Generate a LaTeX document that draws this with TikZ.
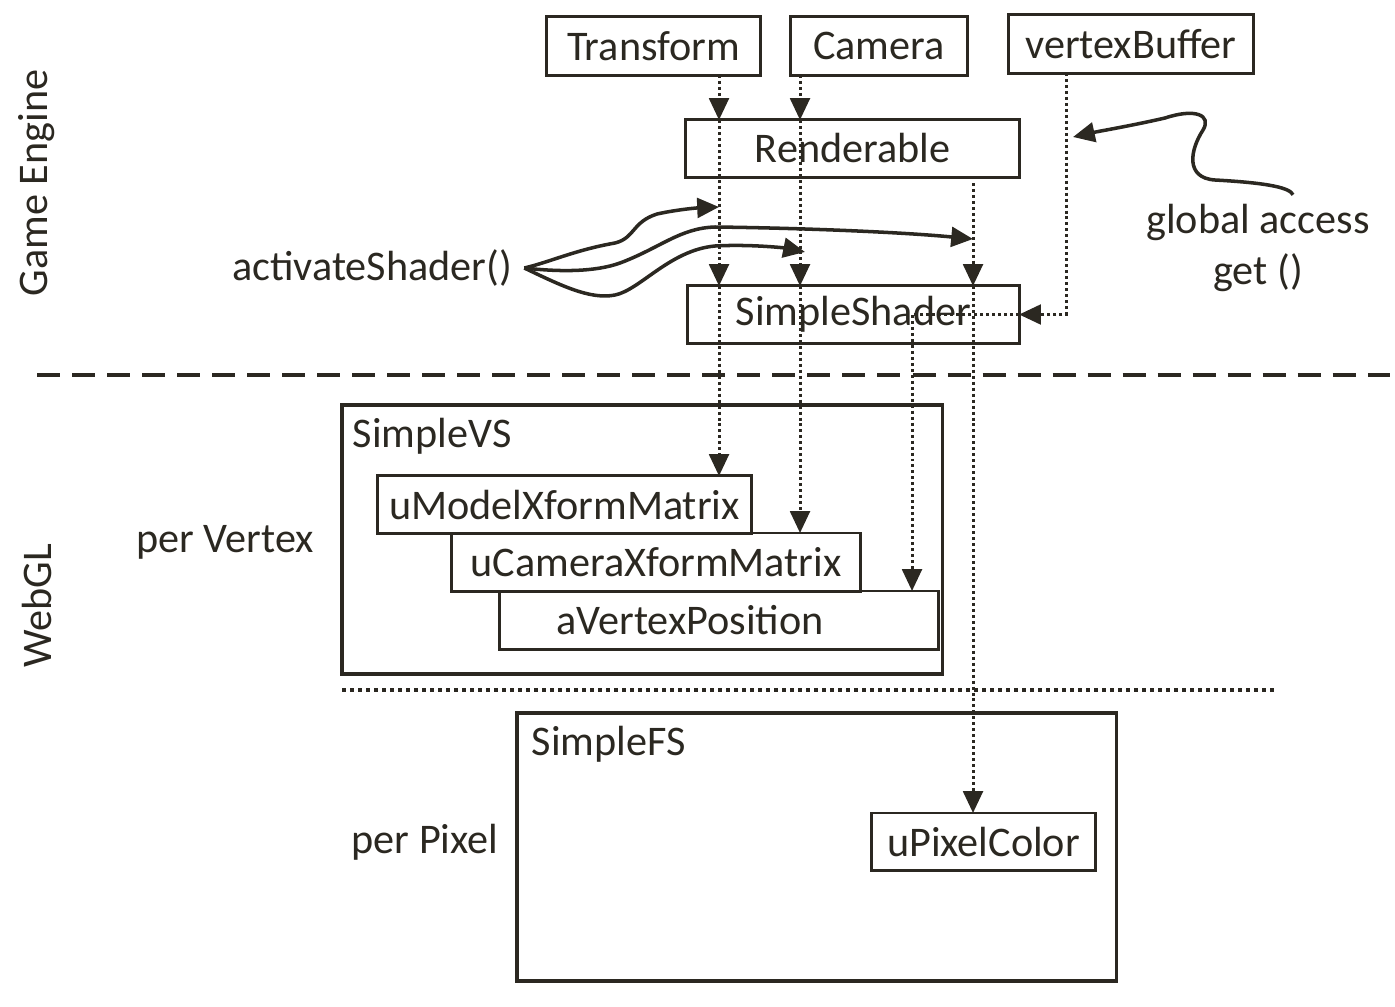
\documentclass[tikz,border=0pt]{standalone}
\usepackage{fontspec}
\setmainfont{Carlito}
\usetikzlibrary{arrows.meta, positioning, calc}
\definecolor{ink}{RGB}{43,40,33}

\begin{document}
\begin{tikzpicture}[
    x=0.01cm, y=-0.01cm,
    every node/.style={text=ink, font=\fontsize{12}{14.5}\selectfont},
    box/.style={rectangle, draw=ink, line width=0.85pt, minimum height=0.57cm, inner sep=0pt, outer sep=0pt},
    area/.style={rectangle, draw=ink, line width=0.95pt, inner sep=0pt, outer sep=0pt},
    flow/.style={draw=ink, line width=0.85pt, dash pattern=on 0.85pt off 0.85pt, -{Triangle[length=6.2pt, width=5.6pt]}},
    call/.style={draw=ink, line width=1pt, -{Triangle[length=6.2pt, width=5.6pt]}}
]
    \useasboundingbox (0,0) rectangle (1395,1006);

    % game engine side
    \node[box, minimum width=2.13cm, minimum height=0.58cm] (tr) at (653.5,46) {Transform};
    \node[box, minimum width=1.76cm, minimum height=0.58cm] (cam) at (879,46) {Camera};
    \node[box, minimum width=2.44cm, minimum height=0.58cm] (vb) at (1131,44) {vertexBuffer};
    \node[box, minimum width=3.33cm] (rend) at (852.5,148.5) {Renderable};
    \node[box, minimum width=3.31cm] (shad) at (853.5,314.5) {SimpleShader};
    \node (act) at (372,268) {activateShader()};
    \node[align=center] (ga) at (1258,248) {global access\\get ()};
    \node[rotate=90] (ge) at (37,183) {Game Engine};
    \node[rotate=90] (wgl) at (37,606) {WebGL};

    % separators
    \draw[ink, line width=1.15pt, dash pattern=on 0.23cm off 0.12cm] (37,375) -- (1390,375);
    \draw[ink, line width=1.1pt, dash pattern=on 0.04cm off 0.04cm] (342,690) -- (1278,690);

    % webgl side
    \node[area, minimum width=6cm, minimum height=2.69cm] (vs) at (642,539.5) {};
    \node[anchor=north west, inner sep=0pt] (vsname) at (352,417) {SimpleVS};
    \node[box, minimum width=3.73cm] (mm) at (564.5,504.5) {uModelXformMatrix};
    \node[box, minimum width=4.08cm, minimum height=0.58cm] (cm) at (656,562) {uCameraXformMatrix};
    \node[box, minimum width=4.38cm, minimum height=0.58cm] (vp) at (719,620) {\hspace*{-0.58cm}aVertexPosition};
    \node (pv) at (225,542) {per Vertex};

    \node[area, minimum width=5.99cm, minimum height=2.68cm] (fs) at (816.5,847) {};
    \node[anchor=north west, inner sep=0pt] (fsname) at (531,725) {SimpleFS};
    \node[box, minimum width=2.23cm] (pc) at (983.5,841.5) {uPixelColor};
    \node (pp) at (425,842) {per Pixel};

    % lanes
    \coordinate (lt) at (719,0);
    \coordinate (lc) at (800,0);
    \coordinate (lv) at (912,0);
    \coordinate (lr) at (973,0);
    \coordinate (lb) at (1066,0);
    \coordinate (hitT) at (719,207);
    \coordinate (hitR) at (973,239);
    \coordinate (hitC) at (805,252);
    \coordinate (hitB) at (1073,137);

    \draw[flow] (lt |- tr.south) -- (lt |- rend.north);
    \draw[flow] (lt |- rend.north) -- (lt |- shad.north);
    \draw[flow] (lt |- shad.north) -- (lt |- mm.north);
    \draw[flow] (lc |- cam.south) -- (lc |- rend.north);
    \draw[flow] (lc |- rend.north) -- (lc |- shad.north);
    \draw[flow] (lc |- shad.north) -- (lc |- cm.north);
    \draw[flow] ($(lr |- rend.south)+(0,6)$) -- (lr |- shad.north);
    \draw[flow] (lr |- shad.north) -- (lr |- pc.north);
    \draw[flow] (lb |- vb.south) |- (shad.east);
    \draw[flow] (shad.east) -| (lv |- vp.north);

    % calls
    \draw[call] (act.east) .. controls (550,262) and (575,250) .. (615,243)
        .. controls (635,238) and (632,222) .. (657,214)
        .. controls (675,210) and (695,208) .. (hitT);
    \draw[call] (act.east) .. controls (560,272) and (595,272) .. (620,263)
        .. controls (660,248) and (680,228) .. (715,227)
        .. controls (800,228) and (900,232) .. (hitR);
    \draw[call] (act.east) .. controls (560,285) and (590,300) .. (615,295)
        .. controls (640,290) and (670,250) .. (715,246)
        .. controls (750,244) and (785,248) .. (hitC);
    \draw[call] ($(ga.north)+(35,3)$) .. controls (1290,188) and (1270,183) .. (1215,180)
        .. controls (1185,178) and (1190,150) .. (1203,130)
        .. controls (1212,115) and (1195,108) .. (1165,118)
        .. controls (1130,126) and (1100,131) .. (hitB);
\end{tikzpicture}
\end{document}
